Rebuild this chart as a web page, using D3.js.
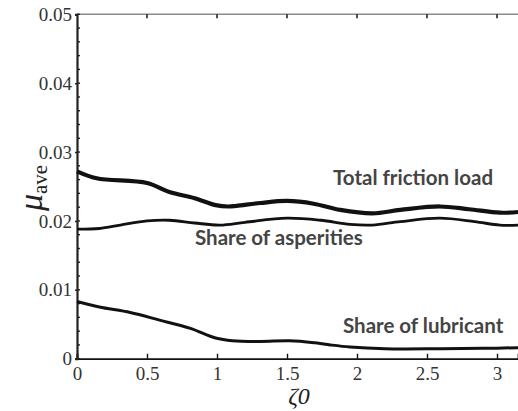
<!DOCTYPE html>
<html>
<head>
<meta charset="utf-8">
<script src="https://cdn.jsdelivr.net/npm/d3@7"></script>
<style>
  body { margin: 0; background: #fff; }
  svg { display: block; }
</style>
</head>
<body>
<div id="chart"></div>
<script>
// values
const totalX = [0, 0.14, 0.5, 0.66, 0.84, 0.99, 1.08, 1.14, 1.31, 1.5, 1.69, 1.88, 2.11, 2.31, 2.59, 2.8, 3.02, 3.15];
const totalY = [0.0272, 0.0262, 0.0255, 0.0242, 0.0233, 0.0223, 0.0221, 0.0222, 0.0226, 0.0229, 0.0225, 0.0216, 0.0211, 0.0216, 0.0221, 0.0217, 0.0212, 0.0213];

const asperX = [0, 0.16, 0.31, 0.5, 0.66, 0.84, 1.02, 1.2, 1.5, 1.74, 1.95, 2.11, 2.31, 2.59, 2.84, 3.02, 3.15];
const asperY = [0.0188, 0.0189, 0.0194, 0.0200, 0.0201, 0.0197, 0.0194, 0.0198, 0.0204, 0.0201, 0.0195, 0.0194, 0.0199, 0.0204, 0.0199, 0.0194, 0.0194];

const lubX = [0, 0.16, 0.38, 0.59, 0.81, 0.99, 1.11, 1.31, 1.52, 1.7, 1.81, 1.95, 2.2, 2.6, 2.9, 3.15];
const lubY = [0.0083, 0.0075, 0.0067, 0.0056, 0.0044, 0.0030, 0.0026, 0.0025, 0.0026, 0.0023, 0.0020, 0.0017, 0.00145, 0.00145, 0.0015, 0.0016];

const xTicks = [0, 0.5, 1, 1.5, 2, 2.5, 3];
const yTicks = [0, 0.01, 0.02, 0.03, 0.04, 0.05];

const W = 518, H = 411;
const svg = d3.select("#chart").append("svg")
    .attr("width", W)
    .attr("height", H);

const x = d3.scaleLinear().domain([0, 3.15]).range([77, 518]);
const y = d3.scaleLinear().domain([0, 0.05]).range([358.7, 14.3]);

const serif = "'Liberation Serif', 'DejaVu Serif', serif";

// top frame line (grey) with small ticks
svg.append("line")
    .attr("x1", x(0)).attr("x2", W)
    .attr("y1", y(0.05)).attr("y2", y(0.05))
    .attr("stroke", "#8a8a8a").attr("stroke-width", 1.6);
svg.append("g").selectAll("line")
    .data(xTicks.filter(d => d > 0))
    .join("line")
    .attr("x1", d => x(d)).attr("x2", d => x(d))
    .attr("y1", y(0.05)).attr("y2", y(0.05) + 4)
    .attr("stroke", "#222").attr("stroke-width", 1.6);

// bottom axis
const xAxis = svg.append("g")
    .attr("transform", `translate(0,${y(0)})`)
    .call(d3.axisBottom(x).tickValues(xTicks).tickSize(-5).tickPadding(8)
        .tickFormat(d => d === 0 ? "0" : d3.format("~g")(d)));
xAxis.select(".domain").attr("stroke", "#111").attr("stroke-width", 1.8);
xAxis.selectAll(".tick line").attr("stroke", "#111").attr("stroke-width", 1.4);
xAxis.selectAll(".tick text")
    .attr("font-family", serif).attr("font-size", 19).attr("fill", "#333");

// left axis: minor ticks every 0.002
const minor = d3.range(0, 0.0501, 0.002);
svg.append("g").selectAll("line")
    .data(minor)
    .join("line")
    .attr("x1", x(0)).attr("x2", x(0) + 3)
    .attr("y1", d => y(d)).attr("y2", d => y(d))
    .attr("stroke", "#222").attr("stroke-width", 1.4);

const yAxis = svg.append("g")
    .attr("transform", `translate(${x(0)},0)`)
    .call(d3.axisLeft(y).tickValues(yTicks).tickSize(2).tickPadding(3)
        .tickFormat(d => d === 0 ? "0" : d3.format(".2f")(d)));
yAxis.select(".domain").attr("stroke", "#222").attr("stroke-width", 2.2);
yAxis.selectAll(".tick line").attr("stroke", "#222").attr("stroke-width", 1.6);
yAxis.selectAll(".tick text")
    .attr("font-family", serif).attr("font-size", 19).attr("fill", "#333");

// curves
const line = d3.line()
    .x(d => x(d[0]))
    .y(d => y(d[1]))
    .curve(d3.curveCatmullRom);

const series = [
  { xs: totalX, ys: totalY, w: 4.2 },
  { xs: asperX, ys: asperY, w: 2.8 },
  { xs: lubX, ys: lubY, w: 3.0 }
];
svg.append("g").selectAll("path")
    .data(series)
    .join("path")
    .attr("d", s => line(s.xs.map((v, i) => [v, s.ys[i]])))
    .attr("fill", "none")
    .attr("stroke", "#111")
    .attr("stroke-width", s => s.w)
    .attr("stroke-linejoin", "round");

// annotations
const notes = [
  { t: "Total friction load", x: 333, y: 185 },
  { t: "Share of asperities", x: 195, y: 245 },
  { t: "Share of lubricant", x: 343, y: 333 }
];
svg.append("g").selectAll("text")
    .data(notes)
    .join("text")
    .attr("x", d => d.x).attr("y", d => d.y)
    .attr("font-family", "Lato, 'Open Sans', sans-serif")
    .attr("font-weight", "bold")
    .attr("font-size", 20.5)
    .attr("fill", "#444")
    .text(d => d.t);

// y label: mu_ave (rotated)
const yl = svg.append("text")
    .attr("transform", "translate(42,188) rotate(-90)")
    .attr("text-anchor", "middle")
    .attr("font-family", serif)
    .attr("fill", "#222");
yl.append("tspan").attr("font-style", "italic").attr("font-size", 34).text("μ");
yl.append("tspan").attr("font-size", 21).attr("dy", 5).text("ave");

// x label: zeta_0
svg.append("text")
    .attr("x", 299).attr("y", 404)
    .attr("text-anchor", "middle")
    .attr("font-family", serif)
    .attr("font-style", "italic")
    .attr("font-size", 24)
    .attr("fill", "#222")
    .text("ζ0");
</script>
</body>
</html>
